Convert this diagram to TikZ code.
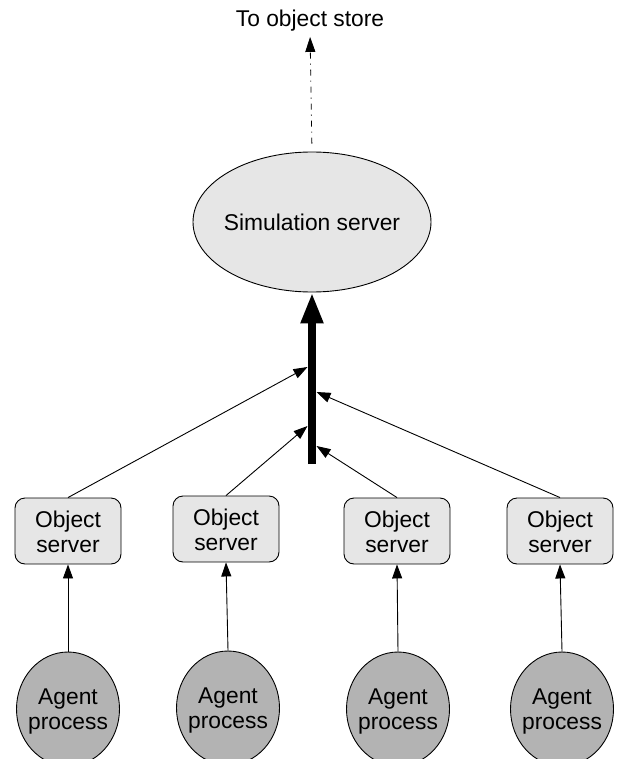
\documentclass[tikz,border=0pt]{standalone}
\usepackage{fontspec}
\setmainfont{Liberation Sans}
\usetikzlibrary{arrows.meta,shapes.geometric}
\definecolor{lightfill}{HTML}{E6E6E6}
\definecolor{agentfill}{HTML}{B3B3B3}
\newcommand{\twolines}[3]{\makebox[0pt]{\raisebox{#3}[0pt][0pt]{\begin{tabular}{@{}c@{}}#1\\#2\end{tabular}}}}
\begin{document}
\begin{tikzpicture}[x=1pt,y=-1pt,
  lbl/.style={font=\fontsize{22.8}{25}\selectfont},
  shapeline/.style={draw=black,line width=0.9pt},
  simnode/.style={ellipse,shapeline,fill=lightfill,minimum width=238pt,minimum height=140pt,inner sep=0pt,lbl},
  objbox/.style={rectangle,rounded corners=10pt,shapeline,fill=lightfill,minimum width=106pt,minimum height=66pt,inner sep=0pt,lbl},
  agentnode/.style={ellipse,shapeline,fill=agentfill,minimum width=103pt,minimum height=114pt,inner sep=0pt,lbl},
  thinarrow/.style={line width=0.9pt,-{Triangle[length=14pt,width=10pt]}},
  bararrow/.style={line width=8pt,-{Triangle[length=31pt,width=21pt]}},
  storearrow/.style={line width=0.8pt,dash pattern=on 6pt off 5pt on 1pt off 5pt,-{Triangle[length=15pt,width=10pt]}}
]
\useasboundingbox (0,0) rectangle (621,759);

% nodes
\node[lbl,anchor=base,inner sep=0pt] (store) at (310,27) {To object store};
\node[simnode] (sim) at (312,222) {\makebox[0pt]{\raisebox{-1pt}{Simulation server}}};

\node[objbox] (o1) at (68,531) {\twolines{Object}{server}{-9.5pt}};
\node[objbox] (o2) at (226,529) {\twolines{Object}{server}{-9.5pt}};
\node[objbox] (o3) at (397,531) {\twolines{Object}{server}{-9.5pt}};
\node[objbox] (o4) at (560,531) {\twolines{Object}{server}{-9.5pt}};

\node[agentnode] (a1) at (68,709) {\twolines{Agent}{process}{-8pt}};
\node[agentnode] (a2) at (228,708) {\twolines{Agent}{process}{-8pt}};
\node[agentnode] (a3) at (398,709) {\twolines{Agent}{process}{-8pt}};
\node[agentnode] (a4) at (562,709) {\twolines{Agent}{process}{-8pt}};

% bar coordinates
\coordinate (barbot) at (312,464);
\coordinate (l1) at (307.5,367);
\coordinate (l2) at (307.5,426);
\coordinate (r1) at (316.5,392);
\coordinate (r2) at (316.5,446);

% connectors
\draw[storearrow,shorten <=8pt,shorten >=5pt] (sim.north) -- (store.south);
\draw[bararrow] (barbot) -- (sim.south);

\draw[thinarrow] (o1.north) -- (l1);
\draw[thinarrow] (o2.north) -- (l2);
\draw[thinarrow] (o3.north) -- (r2);
\draw[thinarrow] (o4.north) -- (r1);

\draw[thinarrow] (a1.north) -- (o1.south);
\draw[thinarrow] (a2.north) -- (o2.south);
\draw[thinarrow] (a3.north) -- (o3.south);
\draw[thinarrow] (a4.north) -- (o4.south);
\end{tikzpicture}
\end{document}
